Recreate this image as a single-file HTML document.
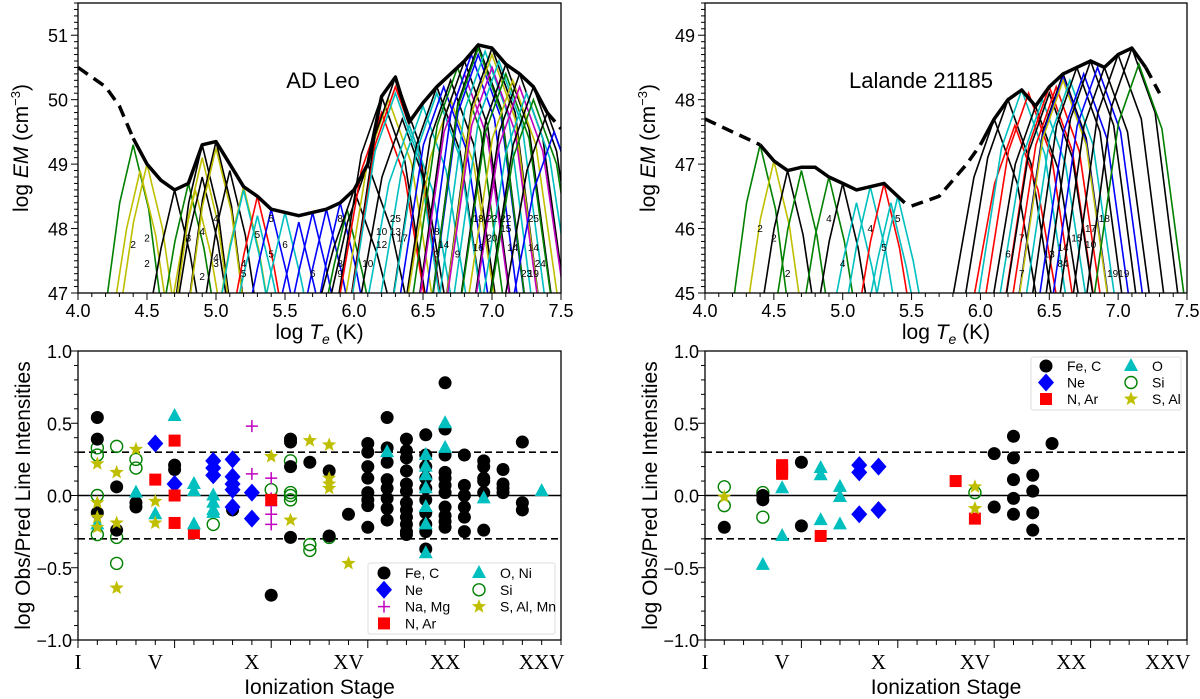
<!DOCTYPE html>
<html><head><meta charset="utf-8"><style>
html,body{margin:0;padding:0;background:#fff;}
svg{display:block;font-family:"Liberation Sans",sans-serif;}
</style></head><body>
<svg id="fig" width="1200" height="699" viewBox="0 0 1200 699" xmlns="http://www.w3.org/2000/svg"></svg>
<script>
// ---------- DATA ----------
const adEnvDash1T=[4.0,4.1,4.2,4.3,4.4];
const adEnvDash1E=[50.5,50.35,50.2,49.9,49.4];
const adEnvT=[4.4,4.5,4.6,4.7,4.8,4.9,5.0,5.1,5.2,5.3,5.4,5.5,5.6,5.7,5.8,5.9,6.0,6.1,6.2,6.3,6.4,6.5,6.6,6.7,6.8,6.9,7.0,7.1,7.2,7.3,7.4];
const adEnvE=[49.4,49.0,48.75,48.6,48.7,49.3,49.35,49.0,48.65,48.5,48.3,48.25,48.2,48.25,48.3,48.4,48.6,49.0,50.05,50.35,49.65,49.95,50.2,50.4,50.6,50.85,50.8,50.55,50.4,50.2,49.8];
const adEnvDash2T=[7.4,7.5];
const adEnvDash2E=[49.8,49.55];
const adPeakT=[4.4,4.45,4.5,4.7,4.8,4.85,4.9,4.9,4.9,5.0,5.0,5.1,5.2,5.2,5.3,5.3,5.4,5.5,5.6,5.7,5.8,5.9,5.95,6.0,6.1,6.2,6.2,6.25,6.3,6.3,6.3,6.35,6.4,6.5,6.6,6.6,6.65,6.7,6.7,6.75,6.8,6.8,6.85,6.9,6.9,6.9,6.95,7.0,7.0,7.0,7.05,7.1,7.1,7.15,7.2,7.2,7.25,7.3,7.3,7.4,7.45];
const adPeakE=[49.3,48.9,49.0,48.6,48.7,48.6,49.3,49.1,48.8,49.35,49.25,48.9,48.65,48.6,48.5,48.2,48.3,48.25,48.1,48.25,48.3,48.4,48.3,48.6,49.0,50.05,49.8,50.0,50.35,50.2,50.1,49.7,49.6,49.9,50.2,50.1,50.2,50.3,50.0,50.5,50.6,50.4,50.7,50.85,50.7,50.8,50.75,50.8,50.7,50.5,50.6,50.55,50.4,50.3,50.4,50.2,50.1,50.2,50.0,49.8,49.5];
const adPeakC=["g","y","y","k","g","y","k","y","k","k","y","k","y","c","r","c","b","c","b","b","b","b","g","k","k","k","r","y","k","r","c","k","c","c","k","c","b","k","y","g","k","m","b","k","b","g","c","k","y","m","c","k","g","y","k","m","c","k","g","k","b"];
const adLabT=[4.4,4.5,4.5,4.8,4.9,5.0,5.0,4.9,5.0,5.2,5.2,5.3,5.4,5.4,5.5,5.7,5.9,5.9,5.9,6.1,6.2,6.2,6.3,6.3,6.35,6.6,6.65,6.6,6.75,6.9,6.9,7.0,7.0,7.1,7.1,7.15,7.25,7.3,7.3,7.35,7.3];
const adLabE=[47.7,47.8,47.4,47.8,47.9,48.1,47.5,47.2,47.4,47.4,47.25,47.85,48.1,47.55,47.7,47.25,48.1,47.4,47.25,47.4,47.9,47.7,48.1,47.9,47.8,47.9,47.7,47.55,47.55,48.1,47.65,47.8,48.1,48.1,47.95,47.65,47.25,48.1,47.65,47.4,47.25];
const adLabS=["2","2","2","3","4","4","4","2","3","4","5","5","5","5","6","6","8","8","9","10","10","12","25","13","17","8","14","3","9","18","16","20","22","22","15","14","23","25","14","24","19"];
const laEnvDash1T=[4.0,4.2,4.4];
const laEnvDash1E=[47.7,47.5,47.3];
const laEnvT=[4.4,4.5,4.6,4.7,4.8,4.9,5.0,5.1,5.2,5.3,5.45];
const laEnvE=[47.3,47.05,46.9,46.95,46.95,46.8,46.7,46.6,46.65,46.7,46.4];
const laEnvDash2T=[5.5,5.7,5.9,6.0];
const laEnvDash2E=[46.35,46.5,47.0,47.3];
const laEnv2T=[6.0,6.1,6.2,6.3,6.4,6.5,6.6,6.7,6.8,6.9,7.0,7.1,7.2];
const laEnv2E=[47.3,47.7,48.0,48.15,47.9,48.2,48.4,48.5,48.6,48.5,48.7,48.8,48.5];
const laEnvDash3T=[7.2,7.3];
const laEnvDash3E=[48.5,48.1];
const laPeakT=[4.4,4.5,4.6,4.7,4.9,5.0,5.1,5.2,5.3,5.35,5.4,6.1,6.2,6.25,6.3,6.35,6.4,6.45,6.5,6.5,6.55,6.6,6.6,6.6,6.65,6.7,6.75,6.8,6.85,6.9,7.0,7.1,7.15];
const laPeakE=[47.3,47.05,46.9,46.9,46.8,46.7,46.4,46.65,46.7,46.4,46.5,47.7,48.0,47.6,48.15,48.1,47.9,48.0,48.2,48.1,48.2,48.4,48.35,48.3,48.3,48.5,48.4,48.6,48.5,48.5,48.7,48.8,48.55];
const laPeakC=["g","y","k","g","g","k","c","c","r","c","c","k","k","r","c","r","k","c","r","k","r","k","b","y","c","k","b","k","b","k","k","k","g"];
const laLabT=[4.4,4.5,4.6,4.9,5.0,5.2,5.3,5.4,6.2,6.3,6.3,6.5,6.6,6.6,6.7,6.8,6.8,6.9,7.0];
const laLabE=[45.95,45.8,45.25,46.1,45.4,45.95,45.65,46.1,45.55,45.8,45.25,45.55,45.65,45.4,45.8,45.95,45.7,46.1,45.25];
const laLabS=["2","2","2","4","4","4","5","5","6","7","7","13","14","84","15","17","10","18","1919"];
const cFeS=[2,2,2,3,3,4,4,6,6,9,11,12,12,12,12,13,14,14,15,16,16,16,16,16,16,16,16,17,17,17,17,17,17,17,17,18,18,18,18,18,18,18,18,18,18,18,18,19,19,19,19,19,19,19,19,19,19,20,20,20,20,20,20,20,20,20,20,20,21,21,21,21,21,21,22,22,22,22,22,22,23,23,23,23,24,24,24];
const cFeV=[0.54,0.39,-0.12,0.06,-0.24,-0.05,-0.08,0.21,0.18,-0.1,-0.69,0.39,0.37,0.2,-0.29,0.23,0.17,-0.28,-0.13,0.36,0.3,0.2,0.12,0.02,-0.03,-0.07,-0.22,0.54,0.33,0.23,0.11,0.05,-0.02,-0.09,-0.17,0.39,0.31,0.26,0.17,0.08,0.03,-0.05,-0.1,-0.15,-0.2,-0.25,-0.27,0.42,0.28,0.2,0.12,0.05,-0.03,-0.12,-0.2,-0.25,-0.37,0.78,0.46,0.28,0.16,0.12,0.07,0.02,-0.08,-0.14,-0.18,-0.22,0.28,0.07,0.0,-0.08,-0.15,-0.25,0.24,0.2,0.12,0.1,0.02,-0.24,0.18,0.08,0.05,0.02,0.37,-0.05,-0.1];
const cNeS=[5,6,8,8,8,9,9,9,9,9,10,10];
const cNeV=[0.36,0.08,0.24,0.19,0.14,0.25,0.13,0.08,0.04,-0.08,0.02,-0.16];
const cNaS=[10,10,11,11,11,11,11];
const cNaV=[0.48,0.15,0.12,-0.02,-0.07,-0.13,-0.2];
const cNS=[5,6,6,6,7,11];
const cNV=[0.11,0.38,0.0,-0.19,-0.26,-0.03];
const cOS=[2,4,5,6,7,7,7,8,8,8,8,17,19,19,19,19,19,19,19,20,20,22,25];
const cOV=[-0.2,0.02,-0.13,0.55,0.08,0.03,-0.2,0.0,-0.05,-0.1,-0.12,0.3,0.28,0.2,0.14,0.05,-0.08,-0.2,-0.4,0.5,0.33,-0.02,0.03];
const cSiS=[2,2,2,2,3,3,3,4,4,8,11,12,12,12,12,13,13,14];
const cSiV=[0.33,0.28,0.0,-0.27,0.34,-0.29,-0.47,0.25,0.19,-0.2,0.04,0.24,0.02,0.0,-0.03,-0.34,-0.38,-0.29];
const cStS=[2,2,2,2,3,3,3,4,5,5,11,12,13,14,14,14,14,15];
const cStV=[0.22,-0.05,-0.15,-0.22,0.16,-0.19,-0.64,0.32,-0.04,-0.19,0.27,-0.17,0.38,0.35,0.12,0.08,0.05,-0.47];
const dFeS=[2,4,4,6,6,16,16,17,17,17,17,17,18,18,18,18,19];
const dFeV=[-0.22,0.0,-0.03,0.23,-0.21,0.29,-0.08,0.41,0.26,0.11,-0.02,-0.13,0.14,0.03,-0.12,-0.24,0.36];
const dNeS=[9,9,9,10,10];
const dNeV=[0.21,0.16,-0.13,0.2,-0.1];
const dNS=[5,5,5,7,14,15];
const dNV=[0.21,0.18,0.15,-0.28,0.1,-0.16];
const dOS=[4,5,5,7,7,7,8,8,8];
const dOV=[-0.48,0.05,-0.28,0.19,0.14,-0.17,0.06,-0.01,-0.2];
const dSiS=[2,2,4,4,15];
const dSiV=[0.06,-0.07,0.02,-0.15,0.02];
const dStS=[2,15,15];
const dStV=[-0.01,0.06,-0.09];
const yTicksTop=[47,48,49,50,51];
const yTicksTopB=[45,46,47,48,49];
const xTicksTop=[4.0,4.5,5.0,5.5,6.0,6.5,7.0,7.5];
const yTicksBot=[-1.0,-0.5,0.0,0.5,1.0];
const romanLabels=["I","V","X","XV","XX","XXV"];
const romanStages=[1,5,10,15,20,25];

// ---------- DRAWING ----------
const NS="http://www.w3.org/2000/svg";
const svg=document.getElementById('fig');
const COL={k:"#000",g:"#008000",y:"#bfbf00",c:"#00bfbf",b:"#0000ff",r:"#ff0000",m:"#bf00bf"};
function mk(tag,at,parent){const e=document.createElementNS(NS,tag);for(const k in at)e.setAttribute(k,at[k]);(parent||svg).appendChild(e);return e;}
function grp(name,parent){const g=mk('g',{},parent);return g;}
function txt(s,x,y,at,parent,name){const t=mk('text',Object.assign({x:x,y:y},at),parent);t.textContent=s;return t;}

function topPanel(id,x0,x1,y0,y1,ymin,ymax){
  const g=grp(id+'-panel');
  const sx=v=>x0+(v-4.0)/3.5*(x1-x0);
  const sy=v=>y1-(v-ymin)/(ymax-ymin)*(y1-y0);
  const clipId=id+'clip';
  const cp=mk('clipPath',{id:clipId},g);mk('rect',{x:x0,y:y0,width:x1-x0,height:y1-y0},cp);
  const plot=grp(id+'-plot-area',g);plot.setAttribute('clip-path','url(#'+clipId+')');
  return {g,plot,sx,sy};
}
function axesTop(P,id,x0,x1,y0,y1,ymin,ymax,yt,title,titleX,ytitleX){
  const g=P.g;
  mk('rect',{x:x0,y:y0,width:x1-x0,height:y1-y0,fill:'none',stroke:'#000','stroke-width':1.3},g);
  for(let v=4.0;v<=7.501;v+=0.1){const x=P.sx(v);const maj=Math.abs(v*2-Math.round(v*2))<0.01;mk('line',{x1:x,x2:x,y1:y1,y2:y1+(maj?7:4),stroke:'#000','stroke-width':1},g);}
  xTicksTop.forEach(v=>txt(v.toFixed(1),P.sx(v),y1+24,{'font-size':18,'text-anchor':'middle'},g,'x-tick-label'));
  for(let v=ymin;v<=ymax+0.001;v+=0.1){const y=P.sy(v);const maj=Math.abs(v-Math.round(v))<0.01;mk('line',{x1:x0,x2:x0-(maj?7:4),y1:y,y2:y,stroke:'#000','stroke-width':1},g);}
  yt.forEach(v=>txt(String(v),x0-10,P.sy(v)+7,{'font-size':18,'text-anchor':'end'},g,'y-tick-label'));
  const xt=txt('',(x0+x1)/2,y1+46,{'font-size':21,'text-anchor':'middle'},g,'x-axis-title');
  xt.innerHTML='log <tspan font-style="italic">T</tspan><tspan font-style="italic" font-size="14" dy="5">e</tspan><tspan dy="-5"> (K)</tspan>';
  const yy=(y0+y1)/2;
  const ytt=txt('',ytitleX,yy,{'font-size':21,'text-anchor':'middle',transform:'rotate(-90 '+ytitleX+' '+yy+')'},g,'y-axis-title');
  ytt.innerHTML='log <tspan font-style="italic">EM</tspan> (cm<tspan font-size="13" dy="-8">−3</tspan><tspan dy="8">)</tspan>';
  txt(title,titleX,88,{'font-size':22,'text-anchor':'middle'},g,'panel-title');
}
function poly(T,E,P,parent,attrs,name){
  const pts=T.map((t,i)=>P.sx(t).toFixed(1)+','+P.sy(E[i]).toFixed(1)).join(' ');
  const p=mk('polyline',Object.assign({points:pts,fill:'none'},attrs),parent);
  
}
function peaks(T,E,C,P,base,name){
  const gg=grp(name,P.plot);
  T.forEach((t,i)=>{
    const w=t<6?0.28:0.42;
    const pts=[[t-w,base],[t-w*0.35,E[i]-0.9],[t,E[i]],[t+w*0.4,E[i]-1.0],[t+w,base]].map(p=>P.sx(p[0]).toFixed(1)+','+P.sy(p[1]).toFixed(1)).join(' ');
    const l=mk('polyline',{points:pts,fill:'none',stroke:COL[C[i]],'stroke-width':1.6},gg);
    
    
  });
}
function labels(T,E,S,P,name){
  const gg=grp(name,P.plot);
  T.forEach((t,i)=>{txt(S[i],P.sx(t),P.sy(E[i]),{'font-size':10,'text-anchor':'middle'},gg,'ion-label');});
}
const A=topPanel('ad-leo-em',78,561,3,293,47,51.5);
peaks(adPeakT,adPeakE,adPeakC,A,45.5,'ad-leo-curves');
labels(adLabT,adLabE,adLabS,A,'ad-leo-ion-labels');
poly(adEnvDash1T,adEnvDash1E,A,A.plot,{stroke:'#000','stroke-width':3.5,'stroke-dasharray':'12,7'},'em-envelope-dashed');
poly(adEnvT,adEnvE,A,A.plot,{stroke:'#000','stroke-width':3.5,'stroke-linejoin':'round'},'em-envelope');
poly(adEnvDash2T,adEnvDash2E,A,A.plot,{stroke:'#000','stroke-width':3.5,'stroke-dasharray':'12,7'},'em-envelope-dashed');
axesTop(A,'ad-leo-em',78,561,3,293,47,51.5,yTicksTop,'AD Leo',323,28);
const B=topPanel('lalande-em',705,1187,3,293,45,49.5);
peaks(laPeakT,laPeakE,laPeakC,B,43.5,'lalande-curves');
labels(laLabT,laLabE,laLabS,B,'lalande-ion-labels');
poly(laEnvDash1T,laEnvDash1E,B,B.plot,{stroke:'#000','stroke-width':3.5,'stroke-dasharray':'12,7'},'em-envelope-dashed');
poly(laEnvT,laEnvE,B,B.plot,{stroke:'#000','stroke-width':3.5,'stroke-linejoin':'round'},'em-envelope');
poly(laEnvDash2T,laEnvDash2E,B,B.plot,{stroke:'#000','stroke-width':3.5,'stroke-dasharray':'12,7'},'em-envelope-dashed');
poly(laEnv2T,laEnv2E,B,B.plot,{stroke:'#000','stroke-width':3.5,'stroke-linejoin':'round'},'em-envelope');
poly(laEnvDash3T,laEnvDash3E,B,B.plot,{stroke:'#000','stroke-width':3.5,'stroke-dasharray':'12,7'},'em-envelope-dashed');
axesTop(B,'lalande-em',705,1187,3,293,45,49.5,yTicksTopB,'Lalande 21185',921,655);

function marker(type,x,y,parent){
  let e;
  if(type==='fe') e=mk('circle',{cx:x,cy:y,r:6.5,fill:'#000'},parent);
  else if(type==='ne') e=mk('polygon',{points:`${x},${y-9} ${x+8},${y} ${x},${y+9} ${x-8},${y}`,fill:'#0000ff'},parent);
  else if(type==='na'){e=mk('path',{d:`M${x-6},${y}H${x+6}M${x},${y-6}V${y+6}`,stroke:'#bf00bf','stroke-width':1.5,fill:'none'},parent);}
  else if(type==='n') e=mk('rect',{x:x-6,y:y-6,width:12,height:12,fill:'#ff0000'},parent);
  else if(type==='o') e=mk('polygon',{points:`${x},${y-8} ${x+7},${y+5} ${x-7},${y+5}`,fill:'#00bfbf'},parent);
  else if(type==='si') e=mk('circle',{cx:x,cy:y,r:6,fill:'none',stroke:'#008000','stroke-width':1.4},parent);
  else { let d='';for(let i=0;i<10;i++){const a=-Math.PI/2+i*Math.PI/5;const r=i%2?3.2:7.5;d+=(i?'L':'M')+(x+r*Math.cos(a)).toFixed(1)+','+(y+r*Math.sin(a)).toFixed(1);} e=mk('path',{d:d+'Z',fill:'#bfbf00'},parent);}
  return e;
}
function bottomPanel(id,x0,x1,y0,y1,series,legend,ytitleX){
  const g=grp(id+'-panel');
  const sx=s=>x0+(s-1)/25*(x1-x0);
  const sy=v=>y0+(1-v)/2*(y1-y0);
  mk('line',{x1:x0,x2:x1,y1:sy(0),y2:sy(0),stroke:'#000','stroke-width':1.6},g);
  [0.3,-0.3].forEach(v=>{const l=mk('line',{x1:x0,x2:x1,y1:sy(v),y2:sy(v),stroke:'#000','stroke-width':1.6,'stroke-dasharray':'7,4'},g);});
  series.forEach(sr=>{
    const gg=grp(id+'-'+sr.type+'-series',g);
    sr.S.forEach((s,i)=>{const m=marker(sr.type,sx(s),sy(sr.V[i]),gg);
      
      });
  });
  mk('rect',{x:x0,y:y0,width:x1-x0,height:y1-y0,fill:'none',stroke:'#000','stroke-width':1.3},g);
  for(let s=1;s<=26;s++){const x=sx(s);const maj=(s-1)%5===0&&s<26;mk('line',{x1:x,x2:x,y1:y1,y2:y1+(maj?8:5),stroke:'#000','stroke-width':1},g);}
  romanStages.forEach((s,i)=>txt(romanLabels[i],sx(s),y1+29,{'font-size':21,'text-anchor':'middle','font-family':'Liberation Serif, serif'},g,'x-tick-label'));
  for(let k=-10;k<=10;k++){const v=k/10;const maj=k%5===0;mk('line',{x1:x0,x2:x0-(maj?7:4),y1:sy(v),y2:sy(v),stroke:'#000','stroke-width':1},g);}
  yTicksBot.forEach(v=>txt((v<0?'−':'')+Math.abs(v).toFixed(1),x0-6,sy(v)+7,{'font-size':18,'text-anchor':'end'},g,'y-tick-label'));
  txt('Ionization Stage',(x0+x1)/2,y1+54,{'font-size':21,'text-anchor':'middle'},g,'x-axis-title');
  const yy=(y0+y1)/2;
  txt('log Obs/Pred Line Intensities',ytitleX,yy,{'font-size':21,'text-anchor':'middle',transform:'rotate(-90 '+ytitleX+' '+yy+')'},g,'y-axis-title');
  const lg=grp('legend',g);
  mk('rect',{x:legend.x,y:legend.y,width:legend.w,height:legend.h,fill:'#fff',stroke:'#ddd','stroke-width':1,rx:2},lg);
  legend.items.forEach((it,i)=>{
    const col=Math.floor(i/legend.rows),row=i%legend.rows;
    const mx=legend.x+legend.mx[col],my=legend.y+legend.my+row*legend.dy;
    const e=grp('legend-entry',lg);
    marker(it[0],mx,my,e);
    txt(it[1],mx+21,my+5,{'font-size':14},e,'legend-label');
  });
}
bottomPanel('ad-leo-residuals',78,561,351,640,[
 {type:'si',S:cSiS,V:cSiV},{type:'fe',S:cFeS,V:cFeV},{type:'ne',S:cNeS,V:cNeV},{type:'na',S:cNaS,V:cNaV},
 {type:'n',S:cNS,V:cNV},{type:'o',S:cOS,V:cOV},{type:'st',S:cStS,V:cStV}],
 {x:368,y:563,w:187,h:71,mx:[16,111],my:10,dy:16.8,rows:4,items:[['fe','Fe, C'],['ne','Ne'],['na','Na, Mg'],['n','N, Ar'],['o','O, Ni'],['si','Si'],['st','S, Al, Mn']]},30);
bottomPanel('lalande-residuals',705,1187,351,640,[
 {type:'si',S:dSiS,V:dSiV},{type:'fe',S:dFeS,V:dFeV},{type:'ne',S:dNeS,V:dNeV},
 {type:'n',S:dNS,V:dNV},{type:'o',S:dOS,V:dOV},{type:'st',S:dStS,V:dStV}],
 {x:1031,y:357,w:150,h:53,mx:[15,100],my:9,dy:16.5,rows:3,items:[['fe','Fe, C'],['ne','Ne'],['n','N, Ar'],['o','O'],['si','Si'],['st','S, Al']]},657);
</script>
</body></html>
